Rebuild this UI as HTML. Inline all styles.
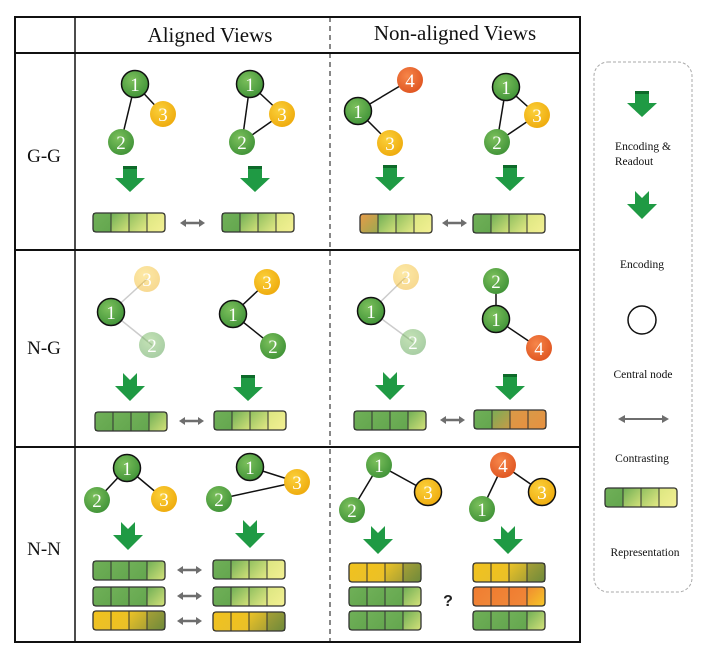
<!DOCTYPE html>
<html><head><meta charset="utf-8">
<style>
html,body{margin:0;padding:0;background:#fff;}
svg{display:block;}
.hd{font-family:"Liberation Serif",serif;font-size:21px;fill:#111;text-anchor:middle;}
.rl{font-family:"Liberation Serif",serif;font-size:19px;fill:#111;text-anchor:middle;}
.lg{font-family:"Liberation Serif",serif;font-size:11.5px;fill:#111;text-anchor:middle;}
.nt{font-family:"Liberation Serif",serif;font-size:19px;fill:#fff;text-anchor:middle;}
</style></head>
<body>
<svg width="706" height="660" viewBox="0 0 706 660" xmlns="http://www.w3.org/2000/svg">
<defs>
 <radialGradient id="ng" cx="0.4" cy="0.35" r="0.7"><stop offset="0" stop-color="#7cc05c"/><stop offset="1" stop-color="#3f9237"/></radialGradient>
 <radialGradient id="ny" cx="0.4" cy="0.35" r="0.7"><stop offset="0" stop-color="#fbd03a"/><stop offset="1" stop-color="#eeaa0c"/></radialGradient>
 <radialGradient id="no" cx="0.4" cy="0.35" r="0.7"><stop offset="0" stop-color="#f6864a"/><stop offset="1" stop-color="#df5420"/></radialGradient>
 <linearGradient id="cg" x1="0" y1="0" x2="1" y2="1"><stop offset="0" stop-color="#70b058"/><stop offset="1" stop-color="#63a64e"/></linearGradient>
 <linearGradient id="cgy" x1="0" y1="0" x2="1" y2="1"><stop offset="0" stop-color="#6eae55"/><stop offset="1" stop-color="#d5e27a"/></linearGradient>
 <linearGradient id="cgy2" x1="0" y1="0" x2="1" y2="1"><stop offset="0" stop-color="#8fbf5e"/><stop offset="1" stop-color="#e6ea86"/></linearGradient>
 <linearGradient id="cy" x1="0" y1="0" x2="1" y2="1"><stop offset="0" stop-color="#dbe680"/><stop offset="1" stop-color="#f4f094"/></linearGradient>
 <linearGradient id="cyy" x1="0" y1="0" x2="1" y2="1"><stop offset="0" stop-color="#f2c21c"/><stop offset="1" stop-color="#e9c02a"/></linearGradient>
 <linearGradient id="cyo" x1="0" y1="0" x2="1" y2="1"><stop offset="0" stop-color="#eec426"/><stop offset="1" stop-color="#a8a034"/></linearGradient>
 <linearGradient id="col" x1="0" y1="0" x2="1" y2="1"><stop offset="0" stop-color="#a8a036"/><stop offset="1" stop-color="#6e8a3a"/></linearGradient>
 <linearGradient id="cor" x1="0" y1="0" x2="1" y2="1"><stop offset="0" stop-color="#f07c30"/><stop offset="1" stop-color="#f0883a"/></linearGradient>
 <linearGradient id="cory" x1="0" y1="0" x2="1" y2="1"><stop offset="0" stop-color="#f08a30"/><stop offset="1" stop-color="#f6c828"/></linearGradient>
 <linearGradient id="cog" x1="0" y1="0" x2="1" y2="1"><stop offset="0" stop-color="#e89a48"/><stop offset="1" stop-color="#9aaa50"/></linearGradient>
 <linearGradient id="cgo" x1="0" y1="0" x2="1" y2="1"><stop offset="0" stop-color="#79ad55"/><stop offset="1" stop-color="#c89a48"/></linearGradient>
 <linearGradient id="co2" x1="0" y1="0" x2="1" y2="1"><stop offset="0" stop-color="#d89a48"/><stop offset="1" stop-color="#e89040"/></linearGradient>

 <g id="arrR"><polygon points="-7,0 7,0 7,12 15,12 0,26 -15,12 -7,12" fill="#1f9a44"/><rect x="-7" y="0" width="14" height="3" fill="#0e6a2a"/></g>
 <g id="arrE"><polygon points="-7,0 0,7 7,0 7,13 15,13 0,28 -15,13 -7,13" fill="#1f9a44"/></g>
 <g id="dbl"><polygon points="0,0 6,-4 6,-1.3 19,-1.3 19,-4 25,0 19,4 19,1.3 6,1.3 6,4" fill="#6e6e6e"/></g>

 <g id="bT1"><rect x="0" y="0" width="18" height="19" fill="url(#cg)"/><rect x="18" y="0" width="18" height="19" fill="url(#cgy)"/><rect x="36" y="0" width="18" height="19" fill="url(#cgy2)"/><rect x="54" y="0" width="18" height="19" fill="url(#cy)"/><g stroke="#333" stroke-width="1"><line x1="18" y1="0" x2="18" y2="19"/><line x1="36" y1="0" x2="36" y2="19"/><line x1="54" y1="0" x2="54" y2="19"/></g><rect x="0" y="0" width="72" height="19" rx="3" fill="none" stroke="#333" stroke-width="1.3"/></g>
 <g id="bT2"><rect x="0" y="0" width="18" height="19" fill="url(#cg)"/><rect x="18" y="0" width="18" height="19" fill="url(#cg)"/><rect x="36" y="0" width="18" height="19" fill="url(#cg)"/><rect x="54" y="0" width="18" height="19" fill="url(#cgy)"/><g stroke="#333" stroke-width="1"><line x1="18" y1="0" x2="18" y2="19"/><line x1="36" y1="0" x2="36" y2="19"/><line x1="54" y1="0" x2="54" y2="19"/></g><rect x="0" y="0" width="72" height="19" rx="3" fill="none" stroke="#333" stroke-width="1.3"/></g>
 <g id="bT3"><rect x="0" y="0" width="18" height="19" fill="url(#cyy)"/><rect x="18" y="0" width="18" height="19" fill="url(#cyy)"/><rect x="36" y="0" width="18" height="19" fill="url(#cyo)"/><rect x="54" y="0" width="18" height="19" fill="url(#col)"/><g stroke="#333" stroke-width="1"><line x1="18" y1="0" x2="18" y2="19"/><line x1="36" y1="0" x2="36" y2="19"/><line x1="54" y1="0" x2="54" y2="19"/></g><rect x="0" y="0" width="72" height="19" rx="3" fill="none" stroke="#333" stroke-width="1.3"/></g>
 <g id="bT4"><rect x="0" y="0" width="18" height="19" fill="url(#cog)"/><rect x="18" y="0" width="18" height="19" fill="url(#cgy)"/><rect x="36" y="0" width="18" height="19" fill="url(#cgy2)"/><rect x="54" y="0" width="18" height="19" fill="url(#cy)"/><g stroke="#333" stroke-width="1"><line x1="18" y1="0" x2="18" y2="19"/><line x1="36" y1="0" x2="36" y2="19"/><line x1="54" y1="0" x2="54" y2="19"/></g><rect x="0" y="0" width="72" height="19" rx="3" fill="none" stroke="#333" stroke-width="1.3"/></g>
 <g id="bT5"><rect x="0" y="0" width="18" height="19" fill="url(#cg)"/><rect x="18" y="0" width="18" height="19" fill="url(#cgo)"/><rect x="36" y="0" width="18" height="19" fill="url(#co2)"/><rect x="54" y="0" width="18" height="19" fill="url(#co2)"/><g stroke="#333" stroke-width="1"><line x1="18" y1="0" x2="18" y2="19"/><line x1="36" y1="0" x2="36" y2="19"/><line x1="54" y1="0" x2="54" y2="19"/></g><rect x="0" y="0" width="72" height="19" rx="3" fill="none" stroke="#333" stroke-width="1.3"/></g>
 <g id="bT6"><rect x="0" y="0" width="18" height="19" fill="url(#cor)"/><rect x="18" y="0" width="18" height="19" fill="url(#cor)"/><rect x="36" y="0" width="18" height="19" fill="url(#cor)"/><rect x="54" y="0" width="18" height="19" fill="url(#cory)"/><g stroke="#333" stroke-width="1"><line x1="18" y1="0" x2="18" y2="19"/><line x1="36" y1="0" x2="36" y2="19"/><line x1="54" y1="0" x2="54" y2="19"/></g><rect x="0" y="0" width="72" height="19" rx="3" fill="none" stroke="#333" stroke-width="1.3"/></g>
</defs>

<!-- table -->
<rect x="15" y="17" width="565" height="625" fill="none" stroke="#111" stroke-width="2"/>
<line x1="15" y1="53" x2="580" y2="53" stroke="#111" stroke-width="2"/>
<line x1="15" y1="250" x2="580" y2="250" stroke="#111" stroke-width="2"/>
<line x1="15" y1="447" x2="580" y2="447" stroke="#111" stroke-width="2"/>
<line x1="75" y1="17" x2="75" y2="642" stroke="#111" stroke-width="1.5"/>
<line x1="330" y1="17" x2="330" y2="642" stroke="#111" stroke-width="1" stroke-dasharray="5,4"/>
<text class="hd" x="210" y="42">Aligned Views</text>
<text class="hd" x="455" y="40">Non-aligned Views</text>
<text class="rl" x="44" y="162">G-G</text>
<text class="rl" x="44" y="354">N-G</text>
<text class="rl" x="44" y="555">N-N</text>

<!-- G-G aligned -->
<g stroke="#111" stroke-width="1.5"><line x1="135" y1="84" x2="163" y2="114"/><line x1="135" y1="84" x2="121" y2="142"/>
<line x1="250" y1="84" x2="282" y2="114"/><line x1="250" y1="84" x2="242" y2="142"/><line x1="242" y1="142" x2="282" y2="114"/></g>
<circle cx="163" cy="114" r="13" fill="url(#ny)"/><text class="nt" x="163" y="121">3</text>
<circle cx="121" cy="142" r="13" fill="url(#ng)"/><text class="nt" x="121" y="149">2</text>
<circle cx="135" cy="84" r="13.5" fill="url(#ng)" stroke="#111" stroke-width="1.5"/><text class="nt" x="135" y="91">1</text>
<circle cx="282" cy="114" r="13" fill="url(#ny)"/><text class="nt" x="282" y="121">3</text>
<circle cx="242" cy="142" r="13" fill="url(#ng)"/><text class="nt" x="242" y="149">2</text>
<circle cx="250" cy="84" r="13.5" fill="url(#ng)" stroke="#111" stroke-width="1.5"/><text class="nt" x="250" y="91">1</text>
<use href="#arrR" x="130" y="166"/><use href="#arrR" x="255" y="166"/>
<use href="#bT1" x="93" y="213"/><use href="#dbl" x="180" y="223"/><use href="#bT1" x="222" y="213"/>

<!-- G-G non-aligned -->
<g stroke="#111" stroke-width="1.5"><line x1="358" y1="111" x2="410" y2="80"/><line x1="358" y1="111" x2="390" y2="143"/>
<line x1="506" y1="87" x2="537" y2="115"/><line x1="506" y1="87" x2="497" y2="142"/><line x1="497" y1="142" x2="537" y2="115"/></g>
<circle cx="410" cy="80" r="13" fill="url(#no)"/><text class="nt" x="410" y="87">4</text>
<circle cx="390" cy="143" r="13" fill="url(#ny)"/><text class="nt" x="390" y="150">3</text>
<circle cx="358" cy="111" r="13.5" fill="url(#ng)" stroke="#111" stroke-width="1.5"/><text class="nt" x="358" y="118">1</text>
<circle cx="537" cy="115" r="13" fill="url(#ny)"/><text class="nt" x="537" y="122">3</text>
<circle cx="497" cy="142" r="13" fill="url(#ng)"/><text class="nt" x="497" y="149">2</text>
<circle cx="506" cy="87" r="13.5" fill="url(#ng)" stroke="#111" stroke-width="1.5"/><text class="nt" x="506" y="94">1</text>
<use href="#arrR" x="390" y="165"/><use href="#arrR" x="510" y="165"/>
<use href="#bT4" x="360" y="214"/><use href="#dbl" x="442" y="223"/><use href="#bT1" x="473" y="214"/>

<!-- N-G aligned -->
<g stroke="#ccc" stroke-width="1.5"><line x1="111" y1="312" x2="147" y2="279"/><line x1="111" y1="312" x2="152" y2="345"/></g>
<g stroke="#111" stroke-width="1.5"><line x1="233" y1="314" x2="267" y2="282"/><line x1="233" y1="314" x2="273" y2="346"/></g>
<g opacity="0.45"><circle cx="147" cy="279" r="13" fill="url(#ny)"/><text class="nt" x="147" y="286">3</text>
<circle cx="152" cy="345" r="13" fill="url(#ng)"/><text class="nt" x="152" y="352">2</text></g>
<circle cx="111" cy="312" r="13.5" fill="url(#ng)" stroke="#111" stroke-width="1.5"/><text class="nt" x="111" y="319">1</text>
<circle cx="267" cy="282" r="13" fill="url(#ny)"/><text class="nt" x="267" y="289">3</text>
<circle cx="273" cy="346" r="13" fill="url(#ng)"/><text class="nt" x="273" y="353">2</text>
<circle cx="233" cy="314" r="13.5" fill="url(#ng)" stroke="#111" stroke-width="1.5"/><text class="nt" x="233" y="321">1</text>
<use href="#arrE" x="130" y="373"/><use href="#arrR" x="248" y="375"/>
<use href="#bT2" x="95" y="412"/><use href="#dbl" x="179" y="421"/><use href="#bT1" x="214" y="411"/>

<!-- N-G non-aligned -->
<g stroke="#ccc" stroke-width="1.5"><line x1="371" y1="311" x2="406" y2="277"/><line x1="371" y1="311" x2="413" y2="342"/></g>
<g stroke="#111" stroke-width="1.5"><line x1="496" y1="281" x2="496" y2="319"/><line x1="496" y1="319" x2="539" y2="348"/></g>
<g opacity="0.45"><circle cx="406" cy="277" r="13" fill="url(#ny)"/><text class="nt" x="406" y="284">3</text>
<circle cx="413" cy="342" r="13" fill="url(#ng)"/><text class="nt" x="413" y="349">2</text></g>
<circle cx="371" cy="311" r="13.5" fill="url(#ng)" stroke="#111" stroke-width="1.5"/><text class="nt" x="371" y="318">1</text>
<circle cx="496" cy="281" r="13" fill="url(#ng)"/><text class="nt" x="496" y="288">2</text>
<circle cx="539" cy="348" r="13" fill="url(#no)"/><text class="nt" x="539" y="355">4</text>
<circle cx="496" cy="319" r="13.5" fill="url(#ng)" stroke="#111" stroke-width="1.5"/><text class="nt" x="496" y="326">1</text>
<use href="#arrE" x="390" y="372"/><use href="#arrR" x="510" y="374"/>
<use href="#bT2" x="354" y="411"/><use href="#dbl" x="440" y="420"/><use href="#bT5" x="474" y="410"/>

<!-- N-N aligned -->
<g stroke="#111" stroke-width="1.5"><line x1="127" y1="468" x2="97" y2="500"/><line x1="127" y1="468" x2="164" y2="499"/>
<line x1="250" y1="467" x2="297" y2="482"/><line x1="219" y1="499" x2="297" y2="482"/></g>
<circle cx="97" cy="500" r="13" fill="url(#ng)"/><text class="nt" x="97" y="507">2</text>
<circle cx="164" cy="499" r="13" fill="url(#ny)"/><text class="nt" x="164" y="506">3</text>
<circle cx="127" cy="468" r="13.5" fill="url(#ng)" stroke="#111" stroke-width="1.5"/><text class="nt" x="127" y="475">1</text>
<circle cx="297" cy="482" r="13" fill="url(#ny)"/><text class="nt" x="297" y="489">3</text>
<circle cx="219" cy="499" r="13" fill="url(#ng)"/><text class="nt" x="219" y="506">2</text>
<circle cx="250" cy="467" r="13.5" fill="url(#ng)" stroke="#111" stroke-width="1.5"/><text class="nt" x="250" y="474">1</text>
<use href="#arrE" x="128" y="522"/><use href="#arrE" x="250" y="520"/>
<use href="#bT2" x="93" y="561"/><use href="#bT2" x="93" y="587"/><use href="#bT3" x="93" y="611"/>
<use href="#dbl" x="177" y="570"/><use href="#dbl" x="177" y="596"/><use href="#dbl" x="177" y="621"/>
<use href="#bT1" x="213" y="560"/><use href="#bT1" x="213" y="587"/><use href="#bT3" x="213" y="612"/>

<!-- N-N non-aligned -->
<g stroke="#111" stroke-width="1.5"><line x1="379" y1="465" x2="352" y2="510"/><line x1="379" y1="465" x2="428" y2="492"/>
<line x1="503" y1="465" x2="482" y2="509"/><line x1="503" y1="465" x2="542" y2="492"/></g>
<circle cx="352" cy="510" r="13" fill="url(#ng)"/><text class="nt" x="352" y="517">2</text>
<circle cx="379" cy="465" r="13" fill="url(#ng)"/><text class="nt" x="379" y="472">1</text>
<circle cx="428" cy="492" r="13.5" fill="url(#ny)" stroke="#111" stroke-width="1.5"/><text class="nt" x="428" y="499">3</text>
<circle cx="482" cy="509" r="13" fill="url(#ng)"/><text class="nt" x="482" y="516">1</text>
<circle cx="503" cy="465" r="13" fill="url(#no)"/><text class="nt" x="503" y="472">4</text>
<circle cx="542" cy="492" r="13.5" fill="url(#ny)" stroke="#111" stroke-width="1.5"/><text class="nt" x="542" y="499">3</text>
<use href="#arrE" x="378" y="526"/><use href="#arrE" x="508" y="526"/>
<use href="#bT3" x="349" y="563"/><use href="#bT2" x="349" y="587"/><use href="#bT2" x="349" y="611"/>
<text x="448" y="606" font-family="Liberation Sans,sans-serif" font-size="16" font-weight="bold" fill="#222" text-anchor="middle">?</text>
<use href="#bT3" x="473" y="563"/><use href="#bT6" x="473" y="587"/><use href="#bT2" x="473" y="611"/>

<!-- legend -->
<rect x="594" y="62" width="98" height="530" rx="14" fill="none" stroke="#aaa" stroke-width="1" stroke-dasharray="3,2"/>
<use href="#arrR" x="642" y="91"/>
<text class="lg" x="643" y="150">Encoding &amp;</text>
<text class="lg" x="634" y="165">Readout</text>
<use href="#arrE" x="642" y="191"/>
<text class="lg" x="642" y="268">Encoding</text>
<circle cx="642" cy="320" r="14" fill="#fff" stroke="#111" stroke-width="1.5"/>
<text class="lg" x="643" y="378">Central node</text>
<polygon points="618,419 625,415 625,418 662,418 662,415 669,419 662,423 662,420 625,420 625,423" fill="#6e6e6e"/>
<text class="lg" x="642" y="462">Contrasting</text>
<use href="#bT1" x="605" y="488"/>
<text class="lg" x="645" y="556">Representation</text>
</svg>
</body></html>
